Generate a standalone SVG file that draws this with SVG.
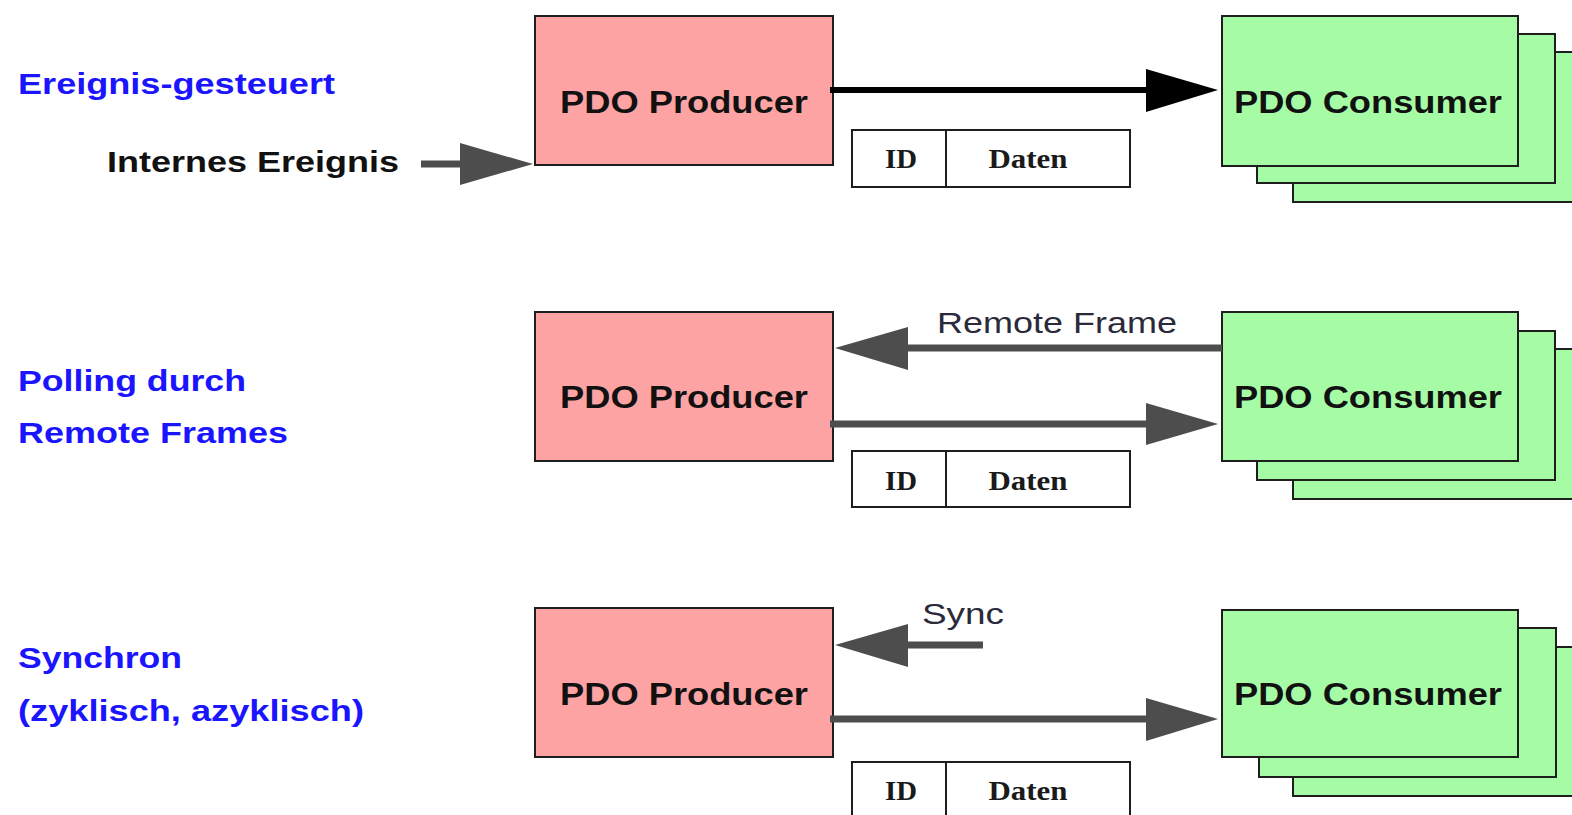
<svg xmlns="http://www.w3.org/2000/svg" width="1572" height="815" viewBox="0 0 1572 815">
  <defs>
    <style>
      .bg { fill: #ffffff; }
      .prod { fill: #fea3a3; stroke: #1e1e1e; stroke-width: 2; }
      .cons { fill: #a5fca5; stroke: #1e1e1e; stroke-width: 2; }
      .frame { fill: #ffffff; stroke: #1e1e1e; stroke-width: 2; }
      .node-label { font-family: "Liberation Sans", Arial, sans-serif; font-weight: bold; font-size: 31px; fill: #111111; }
      .mode { font-family: "Liberation Sans", Arial, sans-serif; font-weight: bold; font-size: 30px; fill: #1a14ff; }
      .event { font-family: "Liberation Sans", Arial, sans-serif; font-weight: bold; font-size: 30px; fill: #111111; }
      .msg { font-family: "Liberation Sans", Arial, sans-serif; font-size: 30px; fill: #2a2a3a; }
      .field { font-family: "Liberation Serif", "Times New Roman", serif; font-weight: bold; font-size: 27px; fill: #1a1a1a; }
      .line-black { stroke: #000000; stroke-width: 6; fill: none; }
      .line-gray { stroke: #4d4d4d; stroke-width: 7; fill: none; }
      .head-black { fill: #000000; }
      .head-gray { fill: #4d4d4d; }
    </style>
  </defs>

  <rect class="bg" x="0" y="0" width="1572" height="815"/>

  <!-- Mode labels on the left -->
  <g id="mode-labels">
    <text class="mode" x="18" y="94" textLength="317" lengthAdjust="spacingAndGlyphs">Ereignis-gesteuert</text>
    <text class="mode" x="18" y="391" textLength="228" lengthAdjust="spacingAndGlyphs">Polling durch</text>
    <text class="mode" x="18" y="443" textLength="270" lengthAdjust="spacingAndGlyphs">Remote Frames</text>
    <text class="mode" x="18" y="668" textLength="164" lengthAdjust="spacingAndGlyphs">Synchron</text>
    <text class="mode" x="18" y="721" textLength="346" lengthAdjust="spacingAndGlyphs">(zyklisch, azyklisch)</text>
  </g>

  <g id="internal-event">
    <text class="event" x="107" y="172" textLength="292" lengthAdjust="spacingAndGlyphs">Internes Ereignis</text>
  </g>

  <!-- Row 1: event driven -->
  <g id="producer-1">
    <rect class="prod" x="535" y="16" width="298" height="149"/>
    <text class="node-label" x="684" y="113" text-anchor="middle" textLength="248" lengthAdjust="spacingAndGlyphs">PDO Producer</text>
  </g>
  <g id="consumer-1">
    <rect class="cons" x="1293" y="52" width="300" height="150"/>
    <rect class="cons" x="1257" y="34" width="298" height="149"/>
    <rect class="cons" x="1222" y="16" width="296" height="150"/>
    <text class="node-label" x="1368" y="113" text-anchor="middle" textLength="268" lengthAdjust="spacingAndGlyphs">PDO Consumer</text>
  </g>
  <g id="frame-1">
    <rect class="frame" x="852" y="130" width="278" height="57"/>
    <line x1="946" y1="130" x2="946" y2="187" stroke="#1e1e1e" stroke-width="2"/>
    <text class="field" x="901" y="168" text-anchor="middle" textLength="32" lengthAdjust="spacingAndGlyphs">ID</text>
    <text class="field" x="1028" y="168" text-anchor="middle" textLength="79" lengthAdjust="spacingAndGlyphs">Daten</text>
  </g>

  <!-- Row 2: polling by remote frames -->
  <g id="producer-2">
    <rect class="prod" x="535" y="312" width="298" height="149"/>
    <text class="node-label" x="684" y="408" text-anchor="middle" textLength="248" lengthAdjust="spacingAndGlyphs">PDO Producer</text>
  </g>
  <g id="consumer-2">
    <rect class="cons" x="1293" y="349" width="300" height="150"/>
    <rect class="cons" x="1257" y="331" width="298" height="149"/>
    <rect class="cons" x="1222" y="312" width="296" height="149"/>
    <text class="node-label" x="1368" y="408" text-anchor="middle" textLength="268" lengthAdjust="spacingAndGlyphs">PDO Consumer</text>
  </g>
  <g id="frame-2">
    <rect class="frame" x="852" y="451" width="278" height="56"/>
    <line x1="946" y1="451" x2="946" y2="507" stroke="#1e1e1e" stroke-width="2"/>
    <text class="field" x="901" y="490" text-anchor="middle" textLength="32" lengthAdjust="spacingAndGlyphs">ID</text>
    <text class="field" x="1028" y="490" text-anchor="middle" textLength="79" lengthAdjust="spacingAndGlyphs">Daten</text>
  </g>

  <!-- Row 3: synchronous -->
  <g id="producer-3">
    <rect class="prod" x="535" y="608" width="298" height="149"/>
    <text class="node-label" x="684" y="705" text-anchor="middle" textLength="248" lengthAdjust="spacingAndGlyphs">PDO Producer</text>
  </g>
  <g id="consumer-3">
    <rect class="cons" x="1293" y="647" width="300" height="149"/>
    <rect class="cons" x="1259" y="628" width="297" height="149"/>
    <rect class="cons" x="1222" y="610" width="296" height="147"/>
    <text class="node-label" x="1368" y="705" text-anchor="middle" textLength="268" lengthAdjust="spacingAndGlyphs">PDO Consumer</text>
  </g>
  <g id="frame-3">
    <path class="frame" d="M852,830 V762 H1130 V830"/>
    <line x1="946" y1="762" x2="946" y2="830" stroke="#1e1e1e" stroke-width="2"/>
    <text class="field" x="901" y="800" text-anchor="middle" textLength="32" lengthAdjust="spacingAndGlyphs">ID</text>
    <text class="field" x="1028" y="800" text-anchor="middle" textLength="79" lengthAdjust="spacingAndGlyphs">Daten</text>
  </g>

  <!-- Connectors -->
  <g id="connectors">
    <!-- internal event into producer 1 -->
    <line class="line-gray" x1="421" y1="164" x2="464" y2="164" stroke-width="8"/>
    <polygon class="head-gray" points="460,143 533,164 460,185"/>

    <!-- producer 1 to consumer 1 -->
    <line class="line-black" x1="830" y1="90" x2="1150" y2="90"/>
    <polygon class="head-black" points="1146,69 1218,90 1146,112"/>

    <!-- remote frame request: consumer 2 to producer 2 -->
    <line class="line-gray" x1="1222" y1="348" x2="904" y2="348"/>
    <polygon class="head-gray" points="908,327 835,348 908,370"/>
    <text class="msg" x="937" y="333" textLength="240" lengthAdjust="spacingAndGlyphs">Remote Frame</text>

    <!-- response: producer 2 to consumer 2 -->
    <line class="line-gray" x1="830" y1="424" x2="1150" y2="424"/>
    <polygon class="head-gray" points="1146,403 1218,424 1146,445"/>

    <!-- sync into producer 3 -->
    <line class="line-gray" x1="983" y1="645" x2="904" y2="645"/>
    <polygon class="head-gray" points="908,624 835,645 908,667"/>
    <text class="msg" x="922" y="624" textLength="82" lengthAdjust="spacingAndGlyphs">Sync</text>

    <!-- producer 3 to consumer 3 -->
    <line class="line-gray" x1="830" y1="719" x2="1150" y2="719"/>
    <polygon class="head-gray" points="1146,698 1218,719 1146,741"/>
  </g>
</svg>
